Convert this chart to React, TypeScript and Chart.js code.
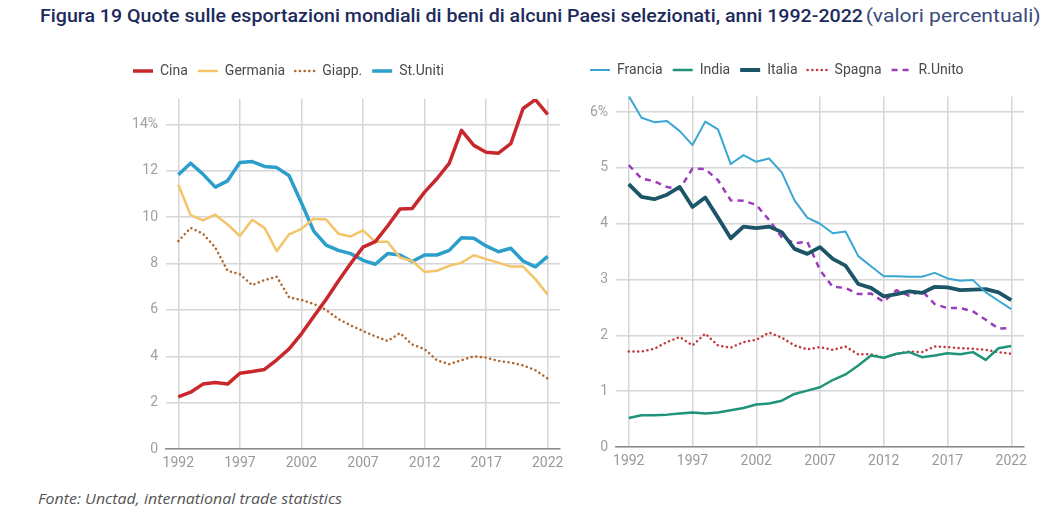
import React, { useEffect, useLayoutEffect, useRef } from "react";
import { Chart, registerables } from "chart.js";

Chart.register(...registerables);

const years = [1992, 1993, 1994, 1995, 1996, 1997, 1998, 1999, 2000, 2001, 2002, 2003, 2004, 2005, 2006, 2007, 2008, 2009, 2010, 2011, 2012, 2013, 2014, 2015, 2016, 2017, 2018, 2019, 2020, 2021, 2022];
const xTicks = [1992, 1997, 2002, 2007, 2012, 2017, 2022];
const leftYTicks = [0, 2, 4, 6, 8, 10, 12, 14];
const rightYTicks = [0, 1, 2, 3, 4, 5, 6];

const cina = [2.25, 2.45, 2.8, 2.87, 2.8, 3.27, 3.34, 3.43, 3.85, 4.32, 4.97, 5.72, 6.45, 7.25, 8.0, 8.71, 8.95, 9.62, 10.35, 10.38, 11.08, 11.66, 12.32, 13.75, 13.1, 12.8, 12.76, 13.17, 14.69, 15.07, 14.44];
const germania = [11.4, 10.09, 9.86, 10.11, 9.69, 9.19, 9.89, 9.54, 8.54, 9.26, 9.5, 9.93, 9.9, 9.29, 9.17, 9.43, 8.94, 8.94, 8.26, 8.11, 7.64, 7.69, 7.9, 8.04, 8.36, 8.19, 8.04, 7.87, 7.87, 7.33, 6.66];
const giappone = [8.97, 9.54, 9.29, 8.69, 7.69, 7.54, 7.07, 7.29, 7.43, 6.54, 6.43, 6.26, 6.0, 5.61, 5.33, 5.09, 4.86, 4.66, 5.0, 4.51, 4.31, 3.83, 3.66, 3.83, 4.0, 3.94, 3.8, 3.73, 3.61, 3.4, 3.04];
const statiUniti = [11.83, 12.33, 11.86, 11.3, 11.57, 12.36, 12.4, 12.19, 12.14, 11.79, 10.61, 9.4, 8.8, 8.57, 8.43, 8.14, 7.97, 8.43, 8.37, 8.09, 8.37, 8.37, 8.57, 9.11, 9.09, 8.76, 8.51, 8.66, 8.11, 7.86, 8.31];

const francia = [6.29, 5.9, 5.82, 5.84, 5.66, 5.41, 5.83, 5.69, 5.07, 5.23, 5.11, 5.17, 4.92, 4.42, 4.11, 4.0, 3.83, 3.86, 3.42, 3.24, 3.06, 3.06, 3.05, 3.05, 3.12, 3.02, 2.98, 2.99, 2.77, 2.62, 2.47];
const india = [0.52, 0.57, 0.57, 0.58, 0.6, 0.62, 0.6, 0.62, 0.66, 0.7, 0.76, 0.78, 0.83, 0.95, 1.01, 1.07, 1.2, 1.3, 1.46, 1.64, 1.6, 1.67, 1.7, 1.61, 1.64, 1.68, 1.66, 1.7, 1.56, 1.77, 1.81];
const italia = [4.71, 4.48, 4.44, 4.52, 4.66, 4.3, 4.47, 4.11, 3.74, 3.95, 3.92, 3.95, 3.85, 3.55, 3.46, 3.58, 3.37, 3.25, 2.92, 2.85, 2.7, 2.74, 2.79, 2.76, 2.87, 2.86, 2.81, 2.82, 2.83, 2.77, 2.63];
const spagna = [1.71, 1.71, 1.76, 1.88, 1.97, 1.82, 2.03, 1.82, 1.78, 1.88, 1.92, 2.05, 1.96, 1.82, 1.75, 1.79, 1.74, 1.8, 1.66, 1.66, 1.6, 1.67, 1.71, 1.7, 1.8, 1.79, 1.77, 1.76, 1.74, 1.7, 1.67];
const regnoUnito = [5.05, 4.81, 4.76, 4.66, 4.62, 4.99, 4.98, 4.78, 4.42, 4.41, 4.34, 4.07, 3.76, 3.65, 3.68, 3.17, 2.87, 2.85, 2.74, 2.75, 2.6, 2.81, 2.71, 2.8, 2.56, 2.49, 2.49, 2.43, 2.28, 2.12, 2.13];

const pts = (vals: number[]) => years.map((y, i) => ({ x: y, y: vals[i] }));

const FONT = "Roboto, 'Noto Sans', sans-serif";

type DS = {
  label: string;
  values: number[];
  color: string;
  width: number;
  dash?: number[];
  cap?: "butt" | "round";
};

const leftSeries: DS[] = [
  { label: "Cina", values: cina, color: "#c8282c", width: 3.5 },
  { label: "Germania", values: germania, color: "#f3c468", width: 2.5 },
  { label: "Giapp.", values: giappone, color: "#b0652a", width: 2.5, dash: [0.1, 4.6], cap: "round" },
  { label: "St.Uniti", values: statiUniti, color: "#2b9fcc", width: 3.5 },
];

const rightSeries: DS[] = [
  { label: "Francia", values: francia, color: "#3aa6d2", width: 2 },
  { label: "India", values: india, color: "#1f9479", width: 2.5 },
  { label: "Italia", values: italia, color: "#1b5567", width: 3.8 },
  { label: "Spagna", values: spagna, color: "#c2383c", width: 2.5, dash: [0.1, 4.6], cap: "round" },
  { label: "R.Unito", values: regnoUnito, color: "#9a3dbb", width: 2.5, dash: [6, 5] },
];

function makeConfig(series: DS[], yTicks: number[], yMax: number, yWidth: number, legendExtra: number, padRight: number) {
  return {
    type: "line" as const,
    data: {
      datasets: series.map((s) => ({
        label: s.label,
        data: pts(s.values),
        borderColor: s.color,
        backgroundColor: s.color,
        borderWidth: s.width,
        borderDash: s.dash || [],
        borderCapStyle: s.cap || "butt",
        borderJoinStyle: "round",
        pointRadius: 0,
        tension: 0,
        fill: false,
      })),
    },
    options: {
      animation: false,
      responsive: false,
      maintainAspectRatio: false,
      layout: { padding: { left: 0, right: padRight, top: 0, bottom: 0 } },
      plugins: {
        legend: {
          display: true,
          position: "top",
          align: "start",
          labels: {
            usePointStyle: true,
            pointStyle: "line",
            pointStyleWidth: 20,
            padding: 10,
            color: "#4a4a4a",
            font: { family: FONT, size: 14 },
            generateLabels: (chart: any) => {
              const items = (Chart.defaults as any).plugins.legend.labels.generateLabels(chart);
              return items.map((it: any) => {
                const s = series[it.datasetIndex];
                return {
                  ...it,
                  pointStyle: "line",
                  lineDash: s.dash || [],
                  lineCap: s.cap || "butt",
                  lineWidth: s.width,
                  strokeStyle: s.color,
                };
              });
            },
          },
        },
        tooltip: { enabled: false },
        legendPad: { extra: legendExtra },
      },
      scales: {
        x: {
          type: "linear",
          min: 1991,
          max: 2023,
          afterBuildTicks: (scale: any) => {
            scale.ticks = xTicks.map((v) => ({ value: v }));
          },
          afterFit: (scale: any) => {
            scale.height = 27;
          },
          ticks: {
            color: "#999",
            font: { family: FONT, size: 14 },
            padding: 6,
            maxRotation: 0,
            autoSkip: false,
            callback: (v: any) => String(v),
          },
          grid: { color: "#d6d6d6", lineWidth: 1.5, drawTicks: false },
          border: { display: true, color: "#8c8c8c", width: 1.5 },
        },
        y: {
          type: "linear",
          min: 0,
          max: yMax,
          afterBuildTicks: (scale: any) => {
            scale.ticks = yTicks.map((v) => ({ value: v }));
          },
          afterFit: (scale: any) => {
            scale.width = yWidth;
          },
          ticks: {
            color: "#a0a0a0",
            font: { family: FONT, size: 14 },
            padding: 8,
            callback: (v: any) => (v === yTicks[yTicks.length - 1] ? v + "%" : String(v)),
          },
          grid: { color: "#d6d6d6", lineWidth: 1.5, drawTicks: false },
          border: { display: false },
        },
      },
    },
    plugins: [
      {
        id: "legendPad",
        beforeUpdate(chart: any, _args: any, opts: any) {
          const lg = chart.legend;
          if (lg && !lg.__patched) {
            const orig = lg.fit.bind(lg);
            lg.fit = function () {
              orig();
              this.height += opts.extra || 0;
            };
            lg.__patched = true;
          }
        },
      },
    ],
  };
}

function LineChart(props: { series: DS[]; yTicks: number[]; yMax: number; yWidth: number; legendExtra: number; padRight: number; left: number; top: number; width: number; height: number }) {
  const ref = useRef<HTMLCanvasElement>(null);
  useEffect(() => {
    if (!ref.current) return;
    const chart = new Chart(ref.current, makeConfig(props.series, props.yTicks, props.yMax, props.yWidth, props.legendExtra, props.padRight) as any);
    return () => chart.destroy();
  }, []);
  return (
    <div style={{ position: "absolute", left: props.left, top: props.top, width: props.width, height: props.height }}>
      <canvas ref={ref} width={props.width} height={props.height} style={{ width: props.width, height: props.height, display: "block" }} />
    </div>
  );
}

function Title() {
  const mainRef = useRef<HTMLSpanElement>(null);
  const subRef = useRef<HTMLSpanElement>(null);
  const wrapRef = useRef<HTMLDivElement>(null);
  useLayoutEffect(() => {
    if (mainRef.current && wrapRef.current && subRef.current) {
      const w = mainRef.current.getBoundingClientRect().width;
      const s = w > 0 ? 823 / w : 1;
      wrapRef.current.style.transform = `scaleX(${s})`;
      const w2 = subRef.current.getBoundingClientRect().width; // already scaled
      if (w2 > 0) subRef.current.style.transform = `scaleX(${175 / w2})`;
    }
  }, []);
  return (
    <div
      ref={wrapRef}
      style={{
        position: "absolute",
        left: 40,
        top: 4,
        whiteSpace: "nowrap",
        fontFamily: FONT,
        fontSize: 19,
        lineHeight: "24px",
        transformOrigin: "0 0",
      }}
    >
      <span ref={mainRef} style={{ fontWeight: 500, color: "#1d2a5c" }}>
        Figura 19 Quote sulle esportazioni mondiali di beni di alcuni Paesi selezionati, anni 1992-2022
      </span>
      <span
        ref={subRef}
        style={{ display: "inline-block", marginLeft: 3, fontWeight: 400, color: "#3b4a7c", transformOrigin: "0 0" }}
      >
        (valori percentuali)
      </span>
    </div>
  );
}

function Footer() {
  const ref = useRef<HTMLDivElement>(null);
  useLayoutEffect(() => {
    if (ref.current) {
      const w = ref.current.getBoundingClientRect().width;
      if (w > 0) ref.current.style.transform = `scaleX(${304 / w})`;
    }
  }, []);
  return (
    <div
      ref={ref}
      style={{
        position: "absolute",
        left: 38,
        top: 490,
        fontFamily: "'Open Sans', Lato, sans-serif",
        fontStyle: "italic",
        fontSize: 14,
        lineHeight: "18px",
        color: "#555",
        whiteSpace: "nowrap",
        transformOrigin: "0 0",
      }}
    >
      Fonte: Unctad, international trade statistics
    </div>
  );
}

export default function App() {
  return (
    <div style={{ position: "fixed", left: 0, top: 0, width: 1048, height: 514, overflow: "hidden", background: "#fff" }}>
      <Title />
      <LineChart series={leftSeries} yTicks={leftYTicks} yMax={15.1} yWidth={43} legendExtra={11} padRight={10} left={123} top={54} width={447} height={422} />
      <LineChart series={rightSeries} yTicks={rightYTicks} yMax={6.28} yWidth={36} legendExtra={9.5} padRight={24} left={580} top={53} width={468} height={421} />
      <Footer />
    </div>
  );
}
